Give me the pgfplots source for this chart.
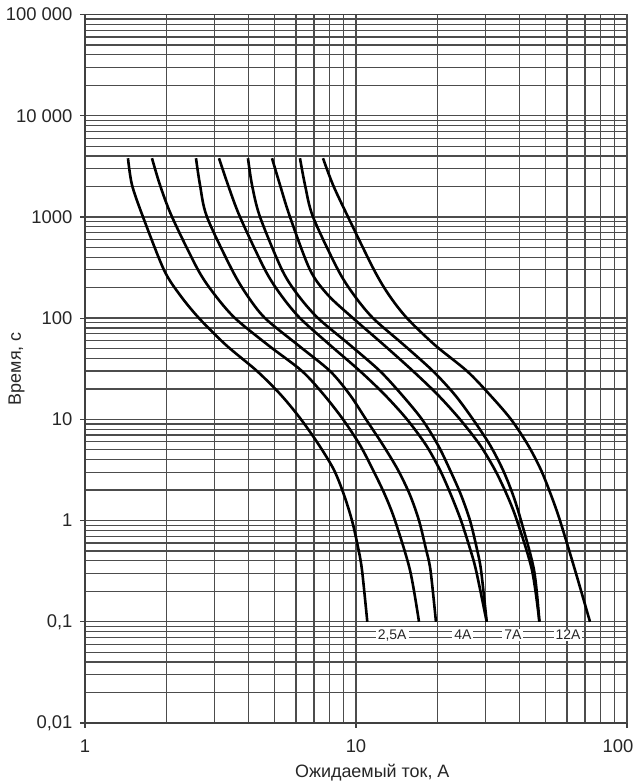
\documentclass[border=0pt]{standalone}
\usepackage{fontspec}
\setmainfont{Liberation Sans}
\usepackage{pgfplots}
\pgfplotsset{compat=1.18}
\pgfplotsset{curve/.style={black, solid, mark=none, line width=2.6bp, smooth, tension=0.5}}
\begin{document}
\begin{tikzpicture}
\begin{axis}[
  scale only axis,
  width=542bp, height=708.5bp,
  xmode=log, ymode=log,
  xmin=1, xmax=100, ymin=0.01, ymax=100000,
  xtick={1,10}, xticklabels={1,10},
  extra x ticks={100}, extra x tick labels={100},
  extra x tick style={xticklabel style={xshift=-9bp}},
  minor xtick={2,3,4,5,6,7,8,9,20,30,40,50,60,70,80,90},
  ytick={0.01,0.1,1,10,100,1000,10000,100000},
  yticklabels={{0,01},{0,1},1,10,100,1000,{10 000},{100 000}},
  minor ytick={0.02,0.03,0.04,0.05,0.06,0.07,0.08,0.09,
               0.2,0.3,0.4,0.5,0.6,0.7,0.8,0.9,
               2,3,4,5,6,7,8,9,
               20,30,40,50,60,70,80,90,
               200,300,400,500,600,700,800,900,
               2000,3000,4000,5000,6000,7000,8000,9000,
               20000,30000,40000,50000,60000,70000,80000,90000},
  grid=both,
  major grid style={black!70, line width=1.3bp},
  minor grid style={black!70, line width=1.3bp},
  axis line style={black!75, line width=1.3bp},
  tick align=outside,
  major tick length=5bp, minor tick length=0pt,
  xtick pos=lower, ytick pos=left,
  tick style={black!75, line width=1.2bp},
  tick label style={font=\fontsize{18.5}{20}\selectfont, text=black!85},
  xticklabel style={yshift=-8bp},
  yticklabel style={xshift=-4bp},
  xlabel={Ожидаемый ток, А},
  ylabel={Время, с},
  label style={font=\fontsize{18}{20}\selectfont, text=black!85},
  xlabel style={at={(axis description cs:0.53,0)}, anchor=north, yshift=-38bp},
  ylabel style={at={(axis description cs:0,0.5)}, anchor=south, yshift=57bp},
]
\addplot[curve] coordinates {(1.441,3800) (1.491,2070) (1.637,1000) (1.956,300) (2.242,169) (2.634,100) (3.314,54.2) (4.313,30) (5.287,17.4) (6.267,10) (7.304,5.57) (8.296,3.16) (9.033,1.79) (9.666,1) (10.171,0.547) (10.523,0.324) (11.008,0.1)};
\addplot[curve] coordinates {(1.767,3800) (1.891,2070) (2.095,1000) (2.612,300) (3.018,169) (3.577,100) (4.735,54.2) (6.321,30) (7.620,17.4) (8.956,10) (10.346,5.57) (11.555,3.16) (12.794,1.79) (13.930,1) (15.821,0.324) (17.08,0.1)};
\addplot[curve] coordinates {(2.568,3800) (2.657,2070) (2.819,1000) (3.487,300) (3.961,169) (4.616,100) (6.108,54.2) (8.019,30) (9.506,17.4) (10.887,10) (12.578,5.57) (14.288,3.16) (15.821,1.79) (17.08,1) (18.05,0.547) (18.83,0.324) (19.73,0.1)};
\addplot[curve] coordinates {(3.123,3800) (3.371,2070) (3.732,1000) (4.616,300) (5.287,169) (6.214,100) (8.019,54.2) (10.346,30) (12.794,17.4) (15.423,10) (18.13,5.57) (20.41,3.16) (22.42,1.79) (24.41,1) (26.24,0.547) (27.72,0.324) (30.36,0.1)};
\addplot[curve] coordinates {(3.995,3800) (4.133,2070) (4.424,1000) (5.332,300) (6.108,169) (7.243,100) (9.506,54.2) (12.262,30) (14.782,17.4) (17.52,10) (20.07,5.57) (22.23,3.16) (24.41,1.79) (26.35,1) (27.84,0.547) (28.93,0.324) (30.36,0.1)};
\addplot[curve] coordinates {(4.899,3800) (5.243,2070) (5.707,1000) (6.766,300) (7.884,169) (9.748,100) (12.685,54.2) (16.230,30) (20.07,17.4) (24.20,10) (28.69,5.57) (32.58,3.16) (36.07,1.79) (39.27,1) (44.61,0.324) (47.51,0.1)};
\addplot[curve] coordinates {(6.214,3800) (6.484,2070) (6.942,1000) (8.583,300) (9.832,169) (11.555,100) (15.035,54.2) (19.23,30) (23.19,17.4) (27.02,10) (31.23,5.57) (34.86,3.16) (37.97,1.79) (40.63,1) (45.38,0.324) (47.51,0.1)};
\addplot[curve] coordinates {(7.556,3800) (8.226,2070) (9.346,1000) (11.653,300) (13.237,169) (15.423,100) (19.56,54.2) (25.68,30) (31.23,17.4) (37.33,10) (43.13,5.57) (48.16,3.16) (52.43,1.79) (56.59,1) (64.30,0.324) (73.02,0.1)};
\begin{scope}[every node/.style={fill=white, inner xsep=2bp, inner ysep=1.5bp, font=\fontsize{14}{16}\selectfont, text=black!85}]
\node at (axis cs:13.6,0.074) {2,5A};
\node at (axis cs:24.8,0.074) {4A};
\node at (axis cs:37.9,0.074) {7A};
\node at (axis cs:60.6,0.074) {12A};
\end{scope}
\end{axis}
\pgfresetboundingbox
\useasboundingbox (-85bp,-58bp) rectangle (553bp,723bp);
\end{tikzpicture}
\end{document}
